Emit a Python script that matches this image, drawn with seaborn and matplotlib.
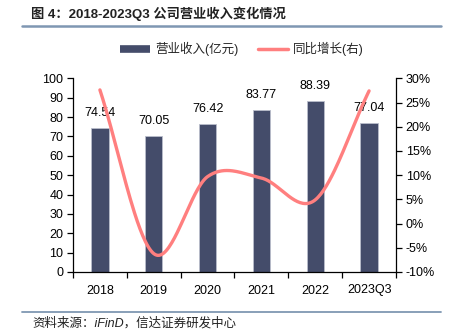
import numpy as np
import pandas as pd
import matplotlib
matplotlib.use("Agg")
import matplotlib.pyplot as plt
from matplotlib.lines import Line2D
import seaborn as sns

periods = ["2018", "2019", "2020", "2021", "2022", "2023Q3"]
revenue = [74.54, 70.05, 76.42, 83.77, 88.39, 77.04]      # 亿元
yoy_growth = [27.6, -6.2, 9.7, 9.4, 4.9, 27.4]             # %
left_ticks = list(range(0, 101, 10))
right_ticks = list(range(-10, 31, 5))

title_text = "图 4：2018-2023Q3 公司营业收入变化情况"
source_text = "资料来源：iFinD，信达证券研发中心"
bar_label = "营业收入(亿元)"
line_label = "同比增长(右)"

BAR_COLOR = "#444C6A"
LINE_COLOR = "#FF7F7F"
RULE_COLOR = "#7F97B2"
FS = 9

sns.set_theme(style="ticks")
plt.rcParams["font.family"] = ["Liberation Sans", "Noto Sans CJK SC", "DejaVu Sans"]
plt.rcParams["axes.unicode_minus"] = False

W, H = 455, 334
fig = plt.figure(figsize=(W / 100, H / 100), dpi=100)
ax = fig.add_axes([73 / W, 1 - 272 / H, (396 - 73) / W, (272 - 78.3) / H])

df = pd.DataFrame({"period": periods, "revenue": revenue})
sns.barplot(data=df, x="period", y="revenue", ax=ax, color=BAR_COLOR,
            width=0.32, saturation=1, edgecolor="#B9BDCB", linewidth=0.6)

ax.set_xlim(-0.5, len(periods) - 0.5)
ax.set_ylim(0, 100)
ax.set_yticks(left_ticks)
ax.set_xlabel("")
ax.set_ylabel("")
for s in ["top", "right"]:
    ax.spines[s].set_visible(False)
for s in ["left", "bottom"]:
    ax.spines[s].set_color("black")
    ax.spines[s].set_linewidth(0.9)

# category labels without ticks; boundary ticks as minor ticks
ax.tick_params(axis="x", which="major", length=0, labelsize=FS, pad=9, colors="black")
ax.set_xticks(np.arange(-0.5, len(periods), 1.0), minor=True)
ax.tick_params(axis="x", which="minor", length=4, width=0.9, direction="out", color="black")
ax.tick_params(axis="y", length=4, width=0.9, direction="out", labelsize=FS, pad=3, colors="black")

for i, v in enumerate(revenue):
    ax.text(i, v + 7.7, f"{v:.2f}", ha="center", va="center", fontsize=FS, color="black")

# growth line on the right axis, drawn as a smooth Catmull-Rom curve
ax2 = ax.twinx()
ax2.set_position(ax.get_position())
xs = np.arange(len(periods), dtype=float)
ys = np.array(yoy_growth, dtype=float)
px = np.concatenate([[2 * xs[0] - xs[1]], xs, [2 * xs[-1] - xs[-2]]])
py = np.concatenate([[2 * ys[0] - ys[1]], ys, [2 * ys[-1] - ys[-2]]])
cx, cy = [], []
t = np.linspace(0, 1, 40)
for k in range(1, len(px) - 2):
    for arr, out in ((px, cx), (py, cy)):
        p0, p1, p2, p3 = arr[k - 1], arr[k], arr[k + 1], arr[k + 2]
        seg = 0.5 * ((2 * p1) + (-p0 + p2) * t + (2 * p0 - 5 * p1 + 4 * p2 - p3) * t ** 2
                     + (-p0 + 3 * p1 - 3 * p2 + p3) * t ** 3)
        out.extend(seg)
sns.lineplot(x=np.array(cx), y=np.array(cy), ax=ax2, color=LINE_COLOR, linewidth=2.4,
             sort=False, estimator=None)

ax2.set_ylim(-10, 30)
ax2.set_yticks(right_ticks)
ax2.set_yticklabels([f"{v}%" for v in right_ticks])
ax2.set_ylabel("")
for s in ["top", "left", "bottom"]:
    ax2.spines[s].set_visible(False)
ax2.spines["right"].set_color("black")
ax2.spines["right"].set_linewidth(0.9)
ax2.tick_params(axis="y", length=4, width=0.9, direction="out", labelsize=FS, pad=3, colors="black")

handles = [Line2D([0], [0], color=BAR_COLOR, lw=5.5, solid_capstyle="butt"),
           Line2D([0], [0], color=LINE_COLOR, lw=2.5)]
fig.legend(handles, [bar_label, line_label], loc="center", bbox_to_anchor=(242 / W, 1 - 49 / H),
           ncol=2, frameon=False, fontsize=FS, handlelength=2.4, columnspacing=1.6,
           handletextpad=0.4)

fig.text(31 / W, 1 - 14 / H, title_text, fontsize=9.5, fontweight="bold",
         ha="left", va="center", color="#222222", transform=fig.transFigure)
fig.add_artist(Line2D([22 / W, 441 / W], [1 - 26 / H, 1 - 26 / H], color=RULE_COLOR, lw=1.8,
                      transform=fig.transFigure))
fig.add_artist(Line2D([22 / W, 441 / W], [1 - 311.5 / H, 1 - 311.5 / H], color=RULE_COLOR, lw=1.3,
                      transform=fig.transFigure))
fig.text(32 / W, 1 - 323 / H, source_text, fontsize=9, style="italic",
         ha="left", va="center", color="#222222", transform=fig.transFigure)

fig.savefig("out.png", dpi=100)
